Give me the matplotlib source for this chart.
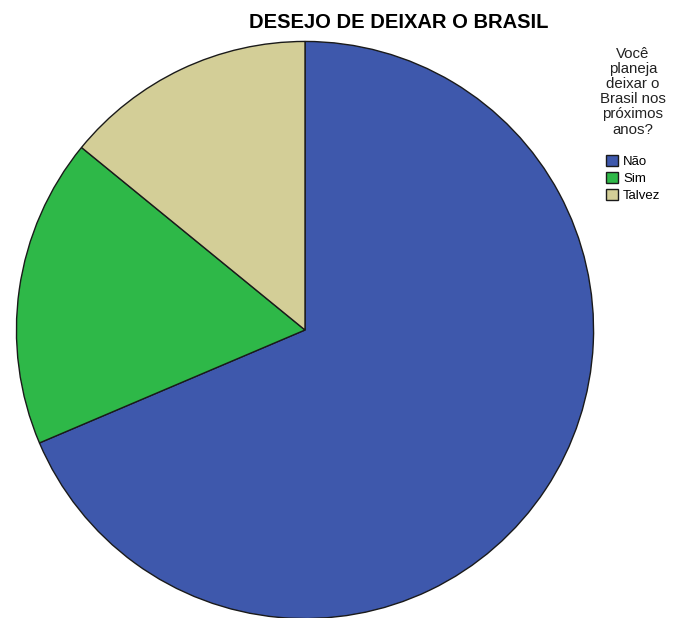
import matplotlib
matplotlib.use("Agg")
from matplotlib import pyplot as plt

# data (shares)
labels = ["Não", "Sim", "Talvez"]
values = [68.6, 17.3, 14.1]
colors = ["#3E58AC", "#2EB848", "#D3CE97"]

plt.rcParams["font.family"] = ["Liberation Sans", "DejaVu Sans"]

fig = plt.figure(figsize=(6.75, 6.18), dpi=100)
ax = fig.add_axes([15 / 675, -2 / 618, 580 / 675, 580 / 618])
wedges, _ = ax.pie(values, colors=colors, startangle=90, counterclock=False,
                   radius=1, wedgeprops={"edgecolor": "#1a1a1a", "linewidth": 1.0})
ax.set_xlim(-1.005, 1.005)
ax.set_ylim(-1.005, 1.005)
ax.set_aspect("auto")
ax.axis("off")

# title
fig.text(399 / 675, 1 - 23 / 618, "DESEJO DE DEIXAR O BRASIL", ha="center", va="center",
         fontsize=14.5, fontweight="bold")

# legend
fig.text(633 / 675, 1 - 47 / 618, "Você\nplaneja\ndeixar o\nBrasil nos\npróximos\nanos?",
         ha="center", va="top", multialignment="center", fontsize=10.8, linespacing=1.1,
         color="#222222")
fig.legend(wedges, labels, loc="upper left", bbox_to_anchor=(606 / 675, 1 - 155 / 618),
           frameon=False, fontsize=9.5, handlelength=0.9, handleheight=0.9,
           handletextpad=0.4, labelspacing=0.3, borderaxespad=0, borderpad=0)

plt.savefig("out.png", dpi=100)
plt.close()
